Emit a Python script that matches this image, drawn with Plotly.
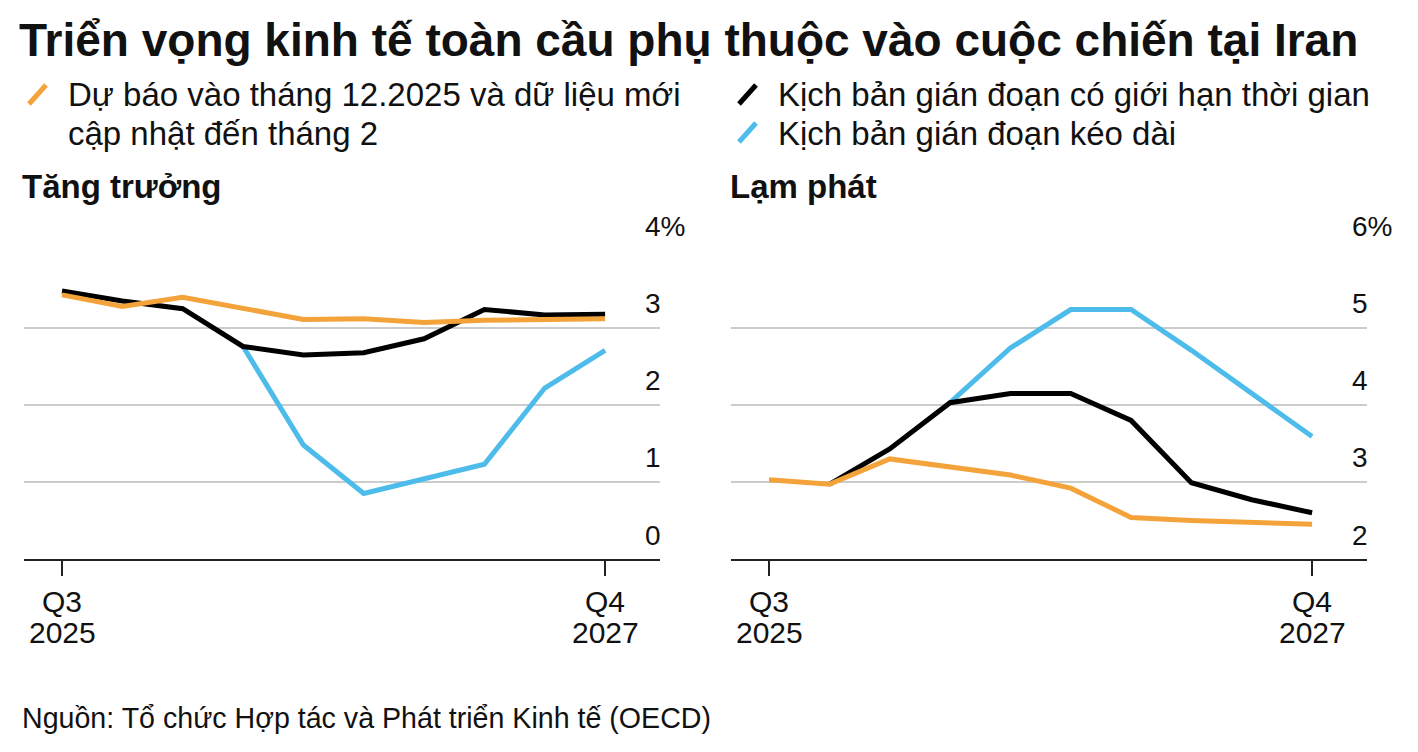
import plotly.graph_objects as go

# ---------------- data ----------------
quarters = ["Q3 2025", "Q4 2025", "Q1 2026", "Q2 2026", "Q3 2026",
            "Q4 2026", "Q1 2027", "Q2 2027", "Q3 2027", "Q4 2027"]
xi = list(range(len(quarters)))

# Growth (%)
growth_baseline = [3.43, 3.28, 3.40, 3.25, 3.11, 3.12, 3.07, 3.10, 3.11, 3.12]
growth_limited = [3.48, 3.35, 3.25, 2.76, 2.65, 2.68, 2.86, 3.24, 3.17, 3.18]
growth_prolonged = [None, None, None, 2.76, 1.48, 0.85, 1.04, 1.23, 2.22, 2.71]

# Inflation (%)
infl_baseline = [3.03, 2.97, 3.30, 3.19, 3.09, 2.92, 2.54, 2.50, 2.47, 2.45]
infl_limited = [None, 2.97, 3.43, 4.03, 4.15, 4.15, 3.80, 2.99, 2.77, 2.60]
infl_prolonged = [None, None, None, 4.03, 4.74, 5.24, 5.24, 4.71, 4.15, 3.59]

growth_ticks = [0, 1, 2, 3, 4]
growth_ticklabels = ["0", "1", "2", "3", "4%"]
infl_ticks = [2, 3, 4, 5, 6]
infl_ticklabels = ["2", "3", "4", "5", "6%"]

x_tickvals = [0, 9]
x_tick_q = ["Q3", "Q4"]
x_tick_year = ["2025", "2027"]

title = "Triển vọng kinh tế toàn cầu phụ thuộc vào cuộc chiến tại Iran"
legend_baseline_1 = "Dự báo vào tháng 12.2025 và dữ liệu mới"
legend_baseline_2 = "cập nhật đến tháng 2"
legend_limited = "Kịch bản gián đoạn có giới hạn thời gian"
legend_prolonged = "Kịch bản gián đoạn kéo dài"
sub_growth = "Tăng trưởng"
sub_infl = "Lạm phát"
source = "Nguồn: Tổ chức Hợp tác và Phát triển Kinh tế (OECD)"

# ---------------- style ----------------
ORANGE = "#F4A33A"
BLACK = "#000000"
BLUE = "#4DBCEA"
GRID = "#CCCCCC"
FONT = "Liberation Sans, Arial, sans-serif"
TXT = "#111111"
W, H = 1418, 752
LW = 5

def px(x):
    return x / W

def py(y):
    return 1 - y / H

fig = go.Figure()

def add_panel(xa, ya, base, lim, prol):
    for vals, col in ((prol, BLUE), (lim, BLACK), (base, ORANGE)):
        fig.add_trace(go.Scatter(
            x=xi, y=vals, mode="lines", xaxis=xa, yaxis=ya,
            line=dict(color=col, width=LW), showlegend=False,
            hoverinfo="skip", connectgaps=False))

add_panel("x", "y", growth_baseline, growth_limited, growth_prolonged)
add_panel("x2", "y2", infl_baseline, infl_limited, infl_prolonged)

xr = [-0.63, 9.91]
ydom = [py(559), py(251)]

common_x = dict(
    range=xr, tickvals=x_tickvals, ticktext=["", ""],
    showgrid=False, zeroline=False, showline=True, linecolor="#222222",
    linewidth=2, ticks="outside", ticklen=15, tickwidth=2, tickcolor="#222222",
    fixedrange=True,
)
common_y = dict(
    showgrid=True, gridcolor=GRID, gridwidth=2, zeroline=False,
    showticklabels=False, ticks="", domain=ydom, fixedrange=True,
)

fig.update_layout(
    width=W, height=H, margin=dict(l=0, r=0, t=0, b=0),
    paper_bgcolor="white", plot_bgcolor="white", showlegend=False,
    xaxis=dict(domain=[px(24), px(660)], anchor="y", **common_x),
    xaxis2=dict(domain=[px(731), px(1367)], anchor="y2", **common_x),
    yaxis=dict(range=[0, 4], tickvals=growth_ticks[1:], anchor="x", **common_y),
    yaxis2=dict(range=[2, 6], tickvals=infl_ticks[1:], anchor="x2", **common_y),
)

ann = []
# y tick labels, placed above the gridlines
for xa, ya, ticks, labels in (("x", "y", growth_ticks, growth_ticklabels),
                              ("x2", "y2", infl_ticks, infl_ticklabels)):
    for v, t in zip(ticks, labels):
        ann.append(dict(x=9.63, y=v, xref=xa, yref=ya, text=t, showarrow=False,
                        xanchor="left", yanchor="middle", yshift=24,
                        font=dict(family=FONT, size=28, color=TXT)))
    # x tick labels (two lines) under the tick marks
    for xv, q, yr in zip(x_tickvals, x_tick_q, x_tick_year):
        ann.append(dict(x=xv, y=py(601), xref=xa, yref="paper", text=q,
                        showarrow=False, xanchor="center", yanchor="middle",
                        font=dict(family=FONT, size=30, color=TXT)))
        ann.append(dict(x=xv, y=py(632), xref=xa, yref="paper", text=yr,
                        showarrow=False, xanchor="center", yanchor="middle",
                        font=dict(family=FONT, size=30, color=TXT)))

def text(x, y, s, size, bold=False, color=TXT):
    ann.append(dict(x=px(x), y=py(y), xref="paper", yref="paper",
                    text=(f"<b>{s}</b>" if bold else s), showarrow=False,
                    xanchor="left", yanchor="middle", align="left",
                    font=dict(family=FONT, size=size, color=color)))

text(17, 40, title, 46, bold=True)
text(66, 95, legend_baseline_1, 33)
text(66, 133, legend_baseline_2, 33)
text(776, 95, legend_limited, 33)
text(776, 133, legend_prolonged, 33)
text(20, 186, sub_growth, 33, bold=True)
text(728, 186, sub_infl, 33, bold=True)
text(20, 718, source, 28.6)
fig.update_layout(annotations=ann)

# legend slash markers
for (x0, y0, x1, y1), col in (((29, 104, 46, 85), ORANGE),
                              ((739, 104, 756, 85), BLACK),
                              ((739, 142, 756, 123), BLUE)):
    fig.add_shape(type="line", xref="paper", yref="paper",
                  x0=px(x0), y0=py(y0), x1=px(x1), y1=py(y1),
                  line=dict(color=col, width=5))

fig.write_html("out.html")
